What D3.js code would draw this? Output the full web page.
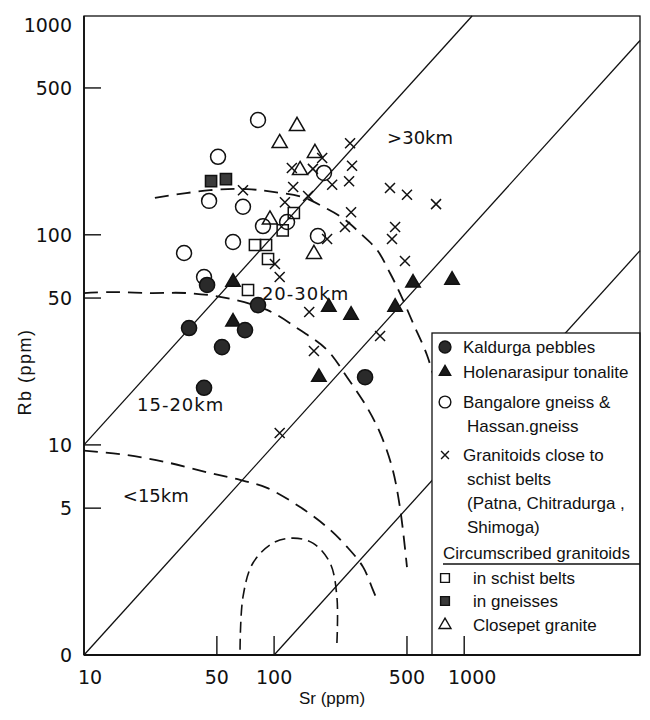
<!DOCTYPE html>
<html>
<head>
<meta charset="utf-8">
<script src="https://cdn.jsdelivr.net/npm/d3@7/dist/d3.min.js"></script>
<style>
  body { margin: 0; background: #fff; }
  svg { display: block; }
</style>
</head>
<body>
<script>
// Rb vs Sr (ppm), log-log, with crustal depth fields

// axis ticks
var srTicks = [10, 50, 100, 500, 1000];
var srTickMarks = [50, 100, 500, 1000];
var rbTicks = [1, 5, 10, 50, 100, 500, 1000];
var rbTickLabels = ['0', '5', '10', '50', '100', '500', '1000'];
var rbTickMarks = [5, 10, 50, 100, 500];

// Rb/Sr ratio lines
var ratios = [1, 0.1, 0.01];

// dashed depth boundaries [Sr, Rb]
var curveOuter = [[23.6,150],[46.0,163],[72.0,165],[98.6,160],[142,151],[181,136],[230,120],[283,102],[348,84.7],[407,65.8],[459,52.8],[538,38.0],[637,26.8],[711,19.3]];
var curveMid = [[10,52.8],[13.7,53.4],[22.2,52.8],[34.8,52.8],[56.5,50.0],[91.8,43.9],[137,35.2],[190,28.3],[242,21.0],[308,15.1],[361,11.4],[417,7.85],[459,5.06],[500,2.62]];
var curveLow = [[10,9.4],[16.8,8.95],[28.3,8.2],[46.0,7.35],[66.2,6.81],[91.8,6.24],[137,5.06],[190,4.06],[242,3.27],[294,2.62],[331,2.04],[348,1.83]];
var curveInner = [[66.2,1.06],[68.6,1.89],[77.4,2.74],[98.6,3.41],[126,3.60],[160,3.41],[197,2.74],[214,1.89],[214,1.14]];

// samples [Sr, Rb]
var kaldurga = [[44.4,57.7],[82.3,46.3],[35.7,36.0],[70.3,35.2],[53.2,29.2],[42.8,18.7],[301,21.0]];
var holenarasipur = [[60.8,59.6],[60.8,38.5],[194,45.3],[254,41.5],[433,45.3],[538,59.0],[863,60.9],[172,21.0]];
var bangalore = [[82.3,352],[50.7,235],[45.5,145],[68.6,136],[87.4,110],[117,115],[183,197],[170,98.7],[60.8,92.4],[33.6,81.9],[42.8,63.0]];
var granitoids = [[68.6,163],[124,208],[160,206],[179,232],[126,169],[114,143],[151,153],[251,273],[257,213],[248,180],[202,173],[407,167],[500,155],[711,140],[254,128],[236,109],[190,95.5],[433,109],[417,95.5],[488,75.0],[101,72.6],[107,63.0],[153,42.9],[162,28.0],[361,33.0],[107,11.4]];
var schistBelts = [[127,127],[111,105],[79.3,89.4],[90.7,89.4],[92.9,76.7],[72.9,54.6]];
var gneisses = [[46.6,180],[55.8,184]];
var closepet = [[132,329],[107,273],[164,245],[137,203],[95.1,118],[162,81.0]];

var zoneLabels = ['>30km', '20-30km', '15-20km', '<15km'];

var legendItems = [
  ['dot', 'Kaldurga pebbles'],
  ['tri', 'Holenarasipur tonalite'],
  ['ring', 'Bangalore gneiss &', 'Hassan.gneiss'],
  ['cross', 'Granitoids close to', 'schist belts', '(Patna, Chitradurga ,', 'Shimoga)'],
  ['head', 'Circumscribed granitoids'],
  ['sq', 'in schist belts'],
  ['sqfill', 'in gneisses'],
  ['opentri', 'Closepet granite']
];

var W = 650, H = 720;
var LEFT = 84, RIGHT = 640, TOP = 16, BOTTOM = 655;

var svg = d3.select('body').append('svg').attr('width', W).attr('height', H);

var x = d3.scaleLog().domain([10, 1000]).range([LEFT, 464.2]);
var y = d3.scaleLog().domain([1, 1000]).range([BOTTOM, 24.7]);
var srMax = x.invert(RIGHT);
var rbMax = y.invert(TOP);

var INK = '#111';

// ratio lines
ratios.forEach(function(k) {
  var s0 = Math.max(10, 1 / k);
  var s1 = Math.min(srMax, rbMax / k);
  svg.append('line')
    .attr('x1', x(s0)).attr('y1', y(s0 * k))
    .attr('x2', x(s1)).attr('y2', y(s1 * k))
    .attr('stroke', INK).attr('stroke-width', 1.3);
});

// dashed boundaries
var curve = d3.line()
  .x(function(d) { return x(d[0]); })
  .y(function(d) { return y(d[1]); })
  .curve(d3.curveCatmullRom);
[curveOuter, curveMid, curveLow].forEach(function(c) {
  svg.append('path').attr('d', curve(c))
    .attr('fill', 'none').attr('stroke', INK).attr('stroke-width', 1.8)
    .attr('stroke-dasharray', '14,8');
});
svg.append('path').attr('d', curve(curveInner))
  .attr('fill', 'none').attr('stroke', INK).attr('stroke-width', 1.6)
  .attr('stroke-dasharray', '11,6');

// symbols
var crossType = {
  draw: function(ctx, size) {
    var r = Math.sqrt(size) / 2;
    ctx.moveTo(-r, -r); ctx.lineTo(r, r);
    ctx.moveTo(r, -r); ctx.lineTo(-r, r);
  }
};
var marks = {
  dot:     { type: d3.symbolCircle,   size: 180, fill: '#2a2a2a', stroke: '#111' },
  tri:     { type: d3.symbolTriangle, size: 90,  fill: '#1a1a1a', stroke: '#111' },
  ring:    { type: d3.symbolCircle,   size: 175, fill: 'none',    stroke: INK },
  cross:   { type: crossType,         size: 100, fill: 'none',    stroke: INK },
  sq:      { type: d3.symbolSquare,   size: 125, fill: 'none',    stroke: INK },
  sqfill:  { type: d3.symbolSquare,   size: 125, fill: '#3a3a3a', stroke: '#111' },
  opentri: { type: d3.symbolTriangle, size: 100, fill: 'none',    stroke: INK }
};

function plotSeries(data, key) {
  var m = marks[key];
  svg.append('g').selectAll('path').data(data).enter().append('path')
    .attr('d', d3.symbol(m.type, m.size))
    .attr('transform', function(d) { return 'translate(' + x(d[0]) + ',' + y(d[1]) + ')'; })
    .attr('fill', m.fill).attr('stroke', m.stroke).attr('stroke-width', 1.5);
}
plotSeries(granitoids, 'cross');
plotSeries(bangalore, 'ring');
plotSeries(schistBelts, 'sq');
plotSeries(closepet, 'opentri');
plotSeries(gneisses, 'sqfill');
plotSeries(holenarasipur, 'tri');
plotSeries(kaldurga, 'dot');

// zone labels
var zoneAt = [[393, 270], [86.3, 48.9], [19.0, 14.5], [16.0, 5.35]];
zoneLabels.forEach(function(t, i) {
  svg.append('text')
    .attr('x', x(zoneAt[i][0])).attr('y', y(zoneAt[i][1]))
    .style('font-family', 'DejaVu Sans').style('font-size', '18px')
    .style('letter-spacing', (i == 1 || i == 2) ? '1px' : '0px')
    .attr('fill', INK).text(t);
});

// legend box (covers what runs behind it)
var LX = 432, LY = 333;
svg.append('rect').attr('x', LX).attr('y', LY)
  .attr('width', RIGHT - LX).attr('height', BOTTOM - LY)
  .attr('fill', '#fff').attr('stroke', INK).attr('stroke-width', 1.3);

var rowY = [347, 372, 402, 455, 553, 578, 601, 625];
var lineStep = 24;
legendItems.forEach(function(item, i) {
  var key = item[0];
  var cy = rowY[i];
  if (key != 'head') {
    var m = marks[key];
    var sz = m.size * 0.62;
    svg.append('path').attr('d', d3.symbol(m.type, sz))
      .attr('transform', 'translate(445,' + cy + ')')
      .attr('fill', m.fill).attr('stroke', m.stroke).attr('stroke-width', 1.4);
  }
  var tx = key == 'head' ? 443 : (i >= 5 ? 473 : 463);
  for (var j = 1; j < item.length; j++) {
    svg.append('text')
      .attr('x', j > 1 ? tx + 4 : tx).attr('y', cy + 6 + (j - 1) * lineStep)
      .style('font-family', 'Liberation Sans, Arial, sans-serif').style('font-size', '17px')
      .attr('fill', INK).text(item[j]);
  }
  if (key == 'head') {
    svg.append('line').attr('x1', 443).attr('x2', RIGHT)
      .attr('y1', cy + 11).attr('y2', cy + 11)
      .attr('stroke', INK).attr('stroke-width', 1.3);
  }
});

// frame
svg.append('rect').attr('x', LEFT).attr('y', TOP)
  .attr('width', RIGHT - LEFT).attr('height', BOTTOM - TOP)
  .attr('fill', 'none').attr('stroke', INK).attr('stroke-width', 1.3);
svg.append('line').attr('x1', LEFT).attr('x2', LEFT).attr('y1', TOP).attr('y2', BOTTOM)
  .attr('stroke', INK).attr('stroke-width', 1.8);
svg.append('line').attr('x1', LEFT).attr('x2', RIGHT).attr('y1', BOTTOM).attr('y2', BOTTOM)
  .attr('stroke', INK).attr('stroke-width', 1.8);

// ticks
rbTickMarks.forEach(function(v) {
  svg.append('line').attr('x1', LEFT).attr('x2', LEFT + 17)
    .attr('y1', y(v)).attr('y2', y(v)).attr('stroke', INK).attr('stroke-width', 1.4);
});
srTickMarks.forEach(function(v) {
  svg.append('line').attr('x1', x(v)).attr('x2', x(v))
    .attr('y1', BOTTOM).attr('y2', BOTTOM - 19).attr('stroke', INK).attr('stroke-width', 1.4);
});

var numFont = 'DejaVu Sans';
rbTicks.forEach(function(v, i) {
  svg.append('text').attr('x', LEFT - 12).attr('y', y(v) + 7)
    .attr('text-anchor', 'end')
    .style('font-family', numFont).style('font-size', '19px')
    .attr('fill', INK).text(rbTickLabels[i]);
});
srTicks.forEach(function(v) {
  svg.append('text').attr('x', x(v) + (v == 10 ? 6 : (v == 1000 ? 8 : 0))).attr('y', y(1) + 29)
    .attr('text-anchor', 'middle')
    .style('font-family', numFont).style('font-size', '19px')
    .attr('fill', INK).text(v);
});

// axis titles
svg.append('text').attr('x', 332).attr('y', 704)
  .attr('text-anchor', 'middle')
  .style('font-family', 'Liberation Sans, Arial, sans-serif').style('font-size', '17px')
  .attr('fill', INK).text('Sr (ppm)');
svg.append('text')
  .attr('transform', 'translate(31,372) rotate(-90)')
  .attr('text-anchor', 'middle')
  .style('font-family', 'Liberation Sans, Arial, sans-serif').style('font-size', '18px')
  .style('letter-spacing', '1.5px')
  .attr('fill', INK).text('Rb (ppm)');
</script>
</body>
</html>
